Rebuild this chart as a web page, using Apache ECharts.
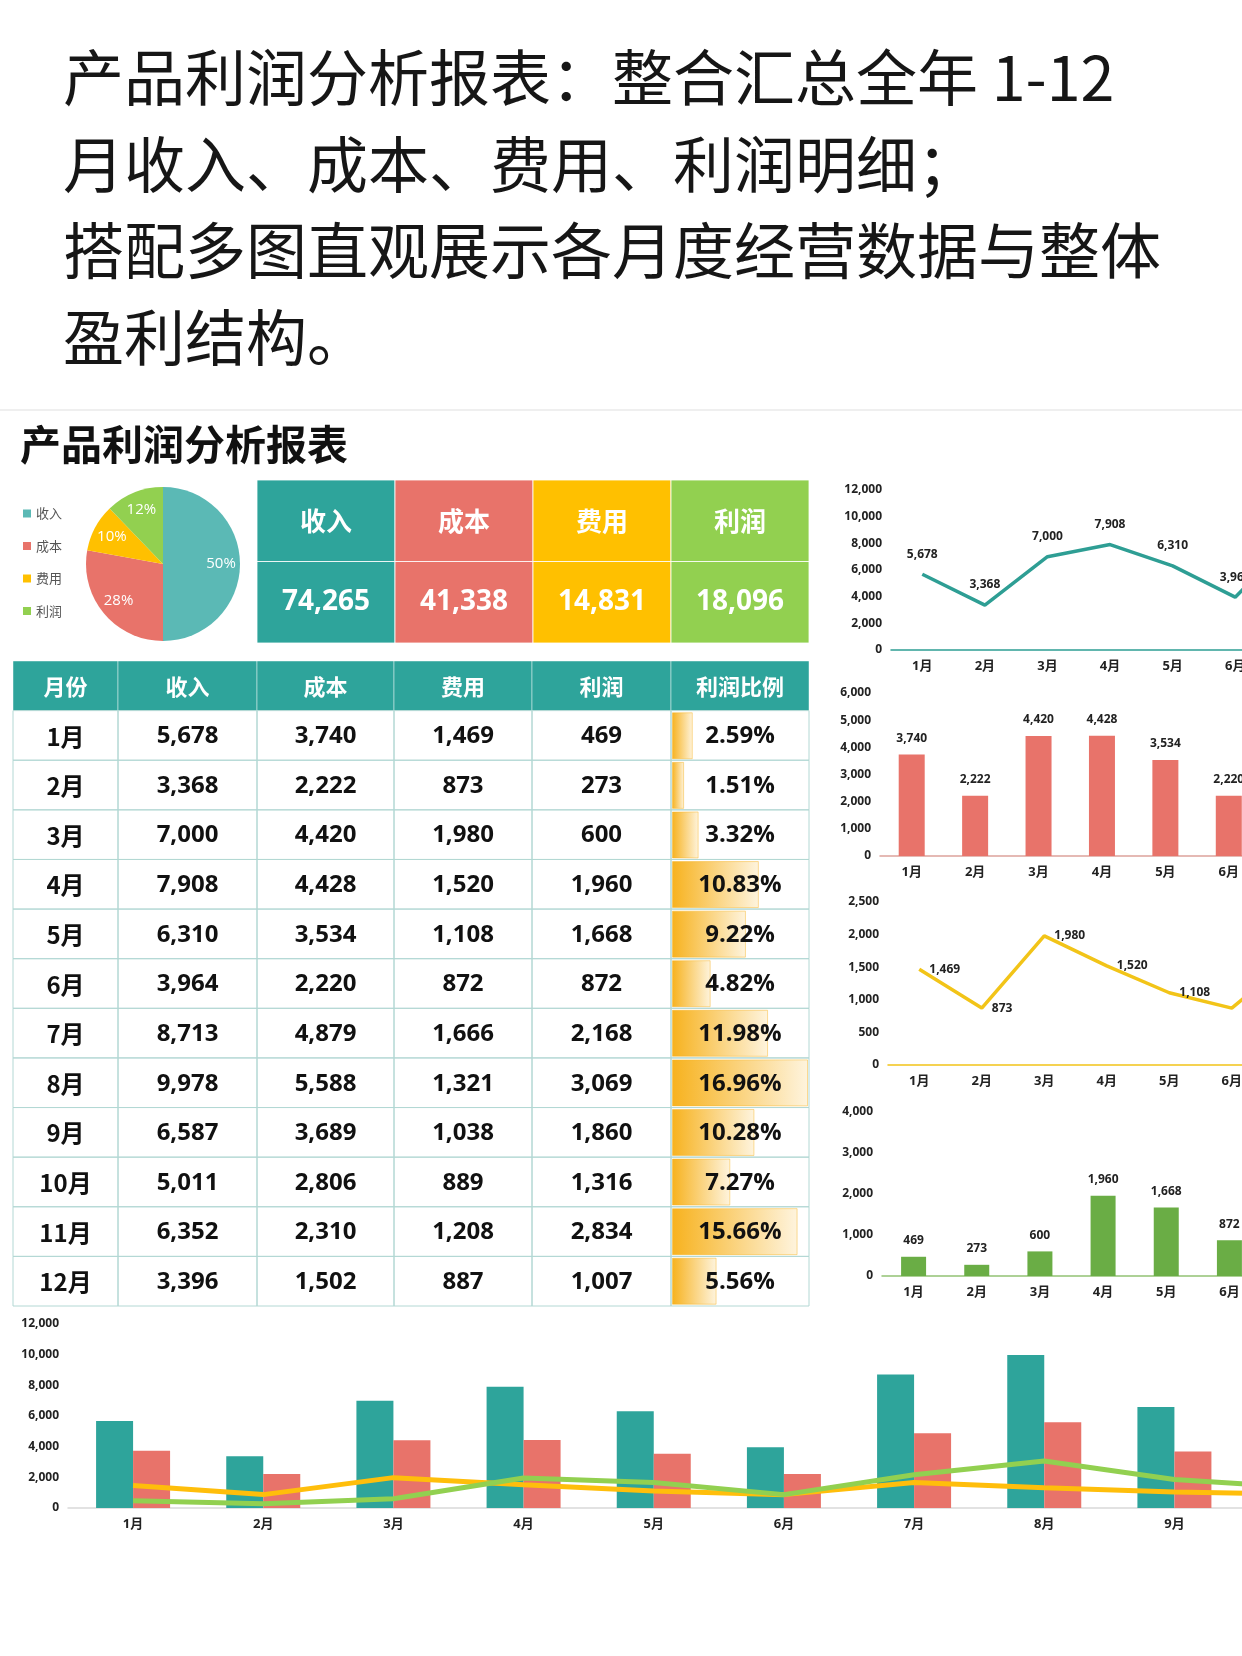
<!DOCTYPE html>
<html>
<head>
<meta charset="utf-8">
<title>产品利润分析报表</title>
<script src="https://cdn.jsdelivr.net/npm/echarts@6/dist/echarts.min.js"></script>
<style>
  html, body { margin: 0; padding: 0; background: #fff; overflow: hidden; }
  /* wider than the window on purpose: the small charts run past the right edge */
  #main { width: 1700px; height: 1656px; }
</style>
</head>
<body>
<div id="main"></div>
<script>
// ---- data ----
var MONTHS = ['1月', '2月', '3月', '4月', '5月', '6月', '7月', '8月', '9月', '10月', '11月', '12月'];
var REVENUE = [5678, 3368, 7000, 7908, 6310, 3964, 8713, 9978, 6587, 5011, 6352, 3396];
var COST = [3740, 2222, 4420, 4428, 3534, 2220, 4879, 5588, 3689, 2806, 2310, 1502];
var EXPENSE = [1469, 873, 1980, 1520, 1108, 872, 1666, 1321, 1038, 889, 1208, 887];
var PROFIT = [469, 273, 600, 1960, 1668, 872, 2168, 3069, 1860, 1316, 2834, 1007];
var PROFIT_RATIO = [2.59, 1.51, 3.32, 10.83, 9.22, 4.82, 11.98, 16.96, 10.28, 7.27, 15.66, 5.56];
var KPI_NAMES = ['收入', '成本', '费用', '利润'];
var KPI_TOTALS = [74265, 41338, 14831, 18096];
var TABLE_HEAD = ['月份', '收入', '成本', '费用', '利润', '利润比例'];
// axis ticks: [max, interval]
var TICKS_REVENUE = [12000, 2000];
var TICKS_COST = [6000, 1000];
var TICKS_EXPENSE = [2500, 500];
var TICKS_PROFIT = [4000, 1000];
var TICKS_ALL = [12000, 2000];

var HEADLINE = '产品利润分析报表：整合汇总全年 1-12\n月收入、成本、费用、利润明细；\n搭配多图直观展示各月度经营数据与整体\n盈利结构。';
var TITLE = '产品利润分析报表';

// ---- look ----
var TEAL = '#2EA49B', RED = '#E8736A', YELLOW = '#FFC000', GREEN = '#92D050';
var KPI_COLORS = [TEAL, RED, YELLOW, GREEN];
var PIE_COLORS = ['#5BB9B5', RED, YELLOW, GREEN];
var FONT = '"Open Sans", "Noto Sans CJK SC", sans-serif';
var CJK = '"Noto Sans CJK SC", sans-serif';
var COL_W = [105, 139, 137, 138, 139, 138];
var COL_EDGES = [0];
COL_W.forEach(function (w, i) { COL_EDGES.push(COL_EDGES[i] + w) });

function fmt(v) { return v.toLocaleString('en-US') }

var chart = echarts.init(document.getElementById('main'));

function cellText(c, r) {
  if (r === 0) return TABLE_HEAD[c];
  var i = r - 1;
  if (c === 0) return MONTHS[i];
  if (c === 1) return fmt(REVENUE[i]);
  if (c === 2) return fmt(COST[i]);
  if (c === 3) return fmt(EXPENSE[i]);
  if (c === 4) return fmt(PROFIT[i]);
  return PROFIT_RATIO[i].toFixed(2) + '%';
}

var tableData = [];
for (var r = 0; r <= MONTHS.length; r++) {
  for (var c = 0; c < TABLE_HEAD.length; c++) tableData.push([c, r]);
}
var kpiData = [];
for (var r2 = 0; r2 < 2; r2++) {
  for (var c2 = 0; c2 < KPI_NAMES.length; c2++) kpiData.push([c2, r2]);
}

function renderTable(params, api) {
  var c = api.value(0), r = api.value(1);
  var p0 = api.coord([COL_EDGES[c], r]);
  var p1 = api.coord([COL_EDGES[c + 1], r + 1]);
  var head = r === 0;
  return {
    type: 'group',
    children: [{
      type: 'rect',
      shape: { x: p0[0], y: p0[1], width: p1[0] - p0[0], height: p1[1] - p0[1] },
      style: { fill: head ? TEAL : 'none', stroke: head ? 'rgba(255,255,255,0.45)' : '#B3D8D4', lineWidth: 1 }
    }, {
      type: 'text',
      style: {
        text: cellText(c, r),
        x: (p0[0] + p1[0]) / 2, y: (p0[1] + p1[1]) / 2 + 1,
        align: 'center', verticalAlign: 'middle',
        fill: head ? '#fff' : '#111',
        fontSize: head ? 22 : 24, fontWeight: 'bold',
        fontFamily: (head || c === 0) ? CJK : FONT
      }
    }]
  };
}

function renderKpi(params, api) {
  var c = api.value(0), r = api.value(1);
  var p0 = api.coord([c, r]);
  var p1 = api.coord([c + 1, r + 1]);
  return {
    type: 'group',
    children: [{
      type: 'rect',
      shape: { x: p0[0], y: p0[1], width: p1[0] - p0[0], height: p1[1] - p0[1] },
      style: { fill: KPI_COLORS[c], stroke: 'rgba(255,255,255,0.8)', lineWidth: 1 }
    }, {
      type: 'text',
      style: {
        text: r === 0 ? KPI_NAMES[c] : fmt(KPI_TOTALS[c]),
        x: (p0[0] + p1[0]) / 2, y: (p0[1] + p1[1]) / 2,
        align: 'center', verticalAlign: 'middle',
        fill: '#fff', fontWeight: 'bold',
        fontSize: r === 0 ? 26 : 28,
        fontFamily: r === 0 ? CJK : FONT
      }
    }]
  };
}

function catAxis(gridIndex, lineColor, size) {
  return {
    type: 'category', gridIndex: gridIndex, data: MONTHS,
    axisTick: { show: false },
    axisLine: { lineStyle: { color: lineColor, width: 1.5 } },
    axisLabel: { interval: 0, margin: 10, color: '#222', fontWeight: 'bold', fontSize: size, fontFamily: FONT }
  };
}
function valAxis(gridIndex, ticks, size) {
  return {
    type: 'value', gridIndex: gridIndex, min: 0, max: ticks[0], interval: ticks[1],
    splitLine: { show: false }, axisLine: { show: false }, axisTick: { show: false },
    axisLabel: { margin: 9, color: '#222', fontWeight: 'bold', fontSize: size, fontFamily: FONT,
      formatter: function (v) { return fmt(v) } }
  };
}
function valLabel(pos, dist) {
  return { show: true, position: pos, distance: dist, color: '#222', fontWeight: 'bold', fontSize: 12, fontFamily: FONT,
    formatter: function (p) { return fmt(p.value) } };
}

var option = {
  backgroundColor: '#fff',
  animation: false,
  graphic: [{
    type: 'text', left: 63, top: 35,
    style: { text: HEADLINE, fill: '#161616', fontSize: 61, lineHeight: 86.5, fontFamily: CJK }
  }, {
    type: 'rect', left: 0, top: 409,
    shape: { width: 1700, height: 2 },
    style: { fill: '#EFEFEF' }
  }, {
    type: 'text', left: 20, top: 424,
    style: { text: TITLE, fill: '#111', fontSize: 41, fontWeight: 'bold', fontFamily: CJK }
  }],
  legend: {
    data: KPI_NAMES, orient: 'vertical', left: 18, top: 502,
    itemWidth: 8, itemHeight: 8, itemGap: 19.5, icon: 'rect', selectedMode: false,
    textStyle: { color: '#555', fontSize: 13, fontFamily: CJK }
  },
  grid: [
    { left: 13, top: 661, width: 796, height: 645 },   // table
    { left: 672, top: 711, width: 136, height: 595 },  // ratio data bars
    { left: 257, top: 480, width: 552, height: 163 },  // kpi boxes
    { left: 891, top: 490, width: 751, height: 160 },  // revenue line
    { left: 880, top: 693, width: 761, height: 163 },  // cost bars
    { left: 888, top: 902, width: 750, height: 163 },  // expense line
    { left: 882, top: 1112, width: 758, height: 164 }, // profit bars
    { left: 68, top: 1324, width: 1562, height: 184 }  // combo
  ],
  xAxis: [
    { type: 'value', gridIndex: 0, min: 0, max: COL_EDGES[COL_EDGES.length - 1], show: false },
    { type: 'value', gridIndex: 1, min: 0, max: Math.max.apply(null, PROFIT_RATIO), show: false },
    { type: 'value', gridIndex: 2, min: 0, max: KPI_NAMES.length, show: false },
    catAxis(3, '#2E9E94', 13),
    catAxis(4, '#DDA39C', 13),
    catAxis(5, '#F2C418', 13),
    catAxis(6, '#93C274', 13),
    catAxis(7, '#D9D9D9', 13)
  ],
  yAxis: [
    { type: 'value', gridIndex: 0, min: 0, max: MONTHS.length + 1, inverse: true, show: false },
    { type: 'category', gridIndex: 1, data: MONTHS, inverse: true, show: false },
    { type: 'value', gridIndex: 2, min: 0, max: 2, inverse: true, show: false },
    valAxis(3, TICKS_REVENUE, 12),
    valAxis(4, TICKS_COST, 12),
    valAxis(5, TICKS_EXPENSE, 12),
    valAxis(6, TICKS_PROFIT, 12),
    valAxis(7, TICKS_ALL, 12)
  ],
  series: [{
    name: 'pie', type: 'pie', center: [163, 564], radius: 77,
    startAngle: 90, clockwise: true, label: { show: false }, labelLine: { show: false },
    data: KPI_NAMES.map(function (n, i) {
      return { name: n, value: KPI_TOTALS[i], itemStyle: { color: PIE_COLORS[i] } };
    })
  }, {
    name: 'pieLabels', type: 'pie', center: [163, 564], radius: [33, 77],
    startAngle: 90, clockwise: true, silent: true, legendHoverLink: false,
    itemStyle: { color: 'rgba(0,0,0,0)' },
    label: { show: true, position: 'inside', color: '#fff', fontSize: 15, fontFamily: FONT,
      formatter: function (p) { return Math.round(p.percent) + '%' } },
    labelLine: { show: false },
    data: KPI_NAMES.map(function (n, i) { return { name: n, value: KPI_TOTALS[i] } })
  }, {
    type: 'bar', xAxisIndex: 1, yAxisIndex: 1, z: 2,
    data: PROFIT_RATIO, barWidth: 47,
    itemStyle: {
      color: new echarts.graphic.LinearGradient(0, 0, 1, 0, [
        { offset: 0, color: '#F7B21E' }, { offset: 1, color: '#FEF4DE' }
      ]),
      borderColor: 'rgba(247,178,30,0.45)', borderWidth: 1
    }
  }, {
    type: 'custom', xAxisIndex: 0, yAxisIndex: 0, z: 3,
    renderItem: renderTable, data: tableData
  }, {
    type: 'custom', xAxisIndex: 2, yAxisIndex: 2,
    renderItem: renderKpi, data: kpiData
  }, {
    type: 'line', xAxisIndex: 3, yAxisIndex: 3, data: REVENUE,
    symbol: 'circle', symbolSize: 0.1, showSymbol: true,
    lineStyle: { color: '#2E9E94', width: 3.5 },
    itemStyle: { color: '#2E9E94' }, label: valLabel('top', 14)
  }, {
    type: 'bar', xAxisIndex: 4, yAxisIndex: 4, data: COST, barWidth: 26,
    itemStyle: { color: RED }, label: valLabel('top', 10)
  }, {
    type: 'line', xAxisIndex: 5, yAxisIndex: 5, data: EXPENSE,
    symbol: 'circle', symbolSize: 0.1, showSymbol: true,
    lineStyle: { color: '#F2C418', width: 3.5 },
    itemStyle: { color: '#F2C418' }, label: valLabel('right', 10)
  }, {
    type: 'bar', xAxisIndex: 6, yAxisIndex: 6, data: PROFIT, barWidth: 25,
    itemStyle: { color: '#6AAD45' }, label: valLabel('top', 10)
  }, {
    name: '收入 ', type: 'bar', xAxisIndex: 7, yAxisIndex: 7, data: REVENUE,
    barWidth: 37, barGap: '0%', itemStyle: { color: TEAL }
  }, {
    name: '成本 ', type: 'bar', xAxisIndex: 7, yAxisIndex: 7, data: COST,
    barWidth: 37, barGap: '0%', itemStyle: { color: RED }
  }, {
    name: '费用 ', type: 'line', xAxisIndex: 7, yAxisIndex: 7, data: EXPENSE,
    showSymbol: false, lineStyle: { color: '#FFBE0B', width: 5 }, itemStyle: { color: '#FFBE0B' }
  }, {
    name: '利润 ', type: 'line', xAxisIndex: 7, yAxisIndex: 7, data: PROFIT,
    showSymbol: false, lineStyle: { color: GREEN, width: 5 }, itemStyle: { color: GREEN }
  }]
};

chart.setOption(option);
</script>
</body>
</html>
